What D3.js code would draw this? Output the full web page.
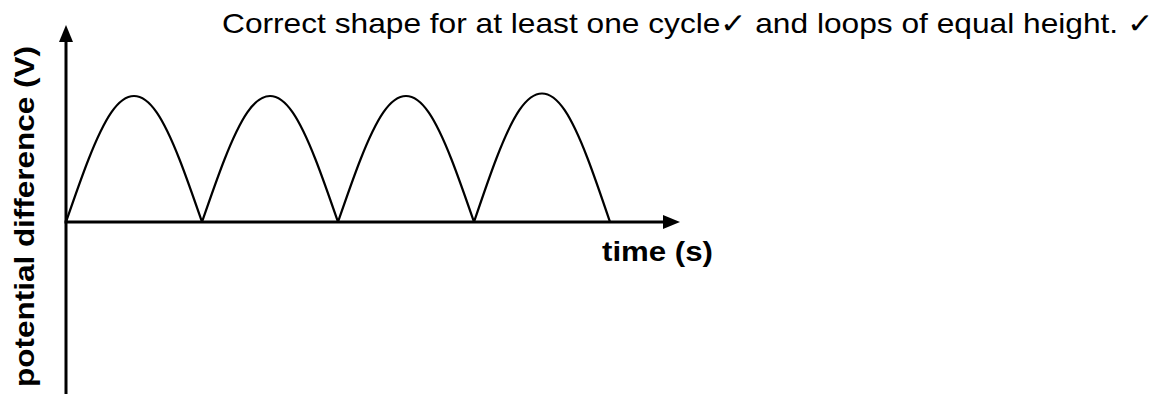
<!DOCTYPE html>
<html>
<head>
<meta charset="utf-8">
<script src="https://cdn.jsdelivr.net/npm/d3@7"></script>
<style>
  body { margin: 0; background: #fff; }
  svg { display: block; }
</style>
</head>
<body>
<script>
// Size of the picture
var w = 1161;
var h = 394;

// Each loop is half a cycle of the rectified wave (time in half-periods)
var loopStarts = [0, 1, 2, 3];
var loopPeaks = [1, 1, 1, 1.02];
// Shape of one loop: position in the loop and height
var archPhase = [0, 1/6, 2/6, 3/6, 4/6, 5/6, 1];
var archShape = [0, 0.5, 0.87, 1, 0.87, 0.5, 0];

// Texts
var caption = "Correct shape for at least one cycle\u2713 and loops of equal height. \u2713";
var xLabel = "time (s)";
var yLabel = "potential difference (V)";

// Scales
var xScale = d3.scaleLinear()
    .domain([0, 4])
    .range([66, 610]);

var yScale = d3.scaleLinear()
    .domain([0, 1])
    .range([222, 96]);

var svg = d3.select("body")
    .append("svg")
    .attr("width", w)
    .attr("height", h);

// Axis extents
var originX = xScale(0);
var originY = yScale(0);
var xAxisEnd = 680;
var yAxisTop = 25;
var yAxisBottom = 394;

// y axis line with arrow
svg.append("line")
    .attr("x1", originX).attr("y1", yAxisBottom)
    .attr("x2", originX).attr("y2", yAxisTop + 12)
    .attr("stroke", "#000")
    .attr("stroke-width", 3);
svg.append("path")
    .attr("d", "M" + originX + "," + yAxisTop +
        "L" + (originX - 7) + "," + (yAxisTop + 17) +
        "L" + (originX + 7) + "," + (yAxisTop + 17) + "Z")
    .attr("fill", "#000");

// x axis line with arrow
svg.append("line")
    .attr("x1", originX - 1.5).attr("y1", originY)
    .attr("x2", xAxisEnd - 12).attr("y2", originY)
    .attr("stroke", "#000")
    .attr("stroke-width", 3);
svg.append("path")
    .attr("d", "M" + xAxisEnd + "," + originY +
        "L" + (xAxisEnd - 17) + "," + (originY - 7) +
        "L" + (xAxisEnd - 17) + "," + (originY + 7) + "Z")
    .attr("fill", "#000");

// The loops
var line = d3.line()
    .x(function(d) { return xScale(d[0]); })
    .y(function(d) { return yScale(d[1]); })
    .curve(d3.curveNatural);

svg.selectAll(".loop")
    .data(loopStarts)
    .enter()
    .append("path")
    .attr("class", "loop")
    .attr("d", function(s, i) {
        var pts = archPhase.map(function(p, j) {
            return [s + p, archShape[j] * loopPeaks[i]];
        });
        return line(pts);
    })
    .attr("fill", "none")
    .attr("stroke", "#000")
    .attr("stroke-width", 2.2)
    .attr("stroke-linejoin", "round");

// Caption at the top (the source font is a bit wider, so stretch to fit)
svg.append("text")
    .attr("x", 222)
    .attr("y", 33)
    .attr("font-family", "Liberation Sans, Arial, sans-serif")
    .attr("font-size", "28px")
    .attr("textLength", 931)
    .attr("lengthAdjust", "spacingAndGlyphs")
    .attr("fill", "#000")
    .text(caption);

// x label
svg.append("text")
    .attr("x", 602)
    .attr("y", 261)
    .attr("font-family", "Liberation Sans, Arial, sans-serif")
    .attr("font-weight", "bold")
    .attr("font-size", "27px")
    .attr("textLength", 111)
    .attr("lengthAdjust", "spacingAndGlyphs")
    .attr("fill", "#000")
    .text(xLabel);

// y label
svg.append("text")
    .attr("transform", "translate(34,387) rotate(-90)")
    .attr("font-family", "Liberation Sans, Arial, sans-serif")
    .attr("font-weight", "bold")
    .attr("font-size", "27px")
    .attr("textLength", 341)
    .attr("lengthAdjust", "spacingAndGlyphs")
    .attr("fill", "#000")
    .text(yLabel);
</script>
</body>
</html>
